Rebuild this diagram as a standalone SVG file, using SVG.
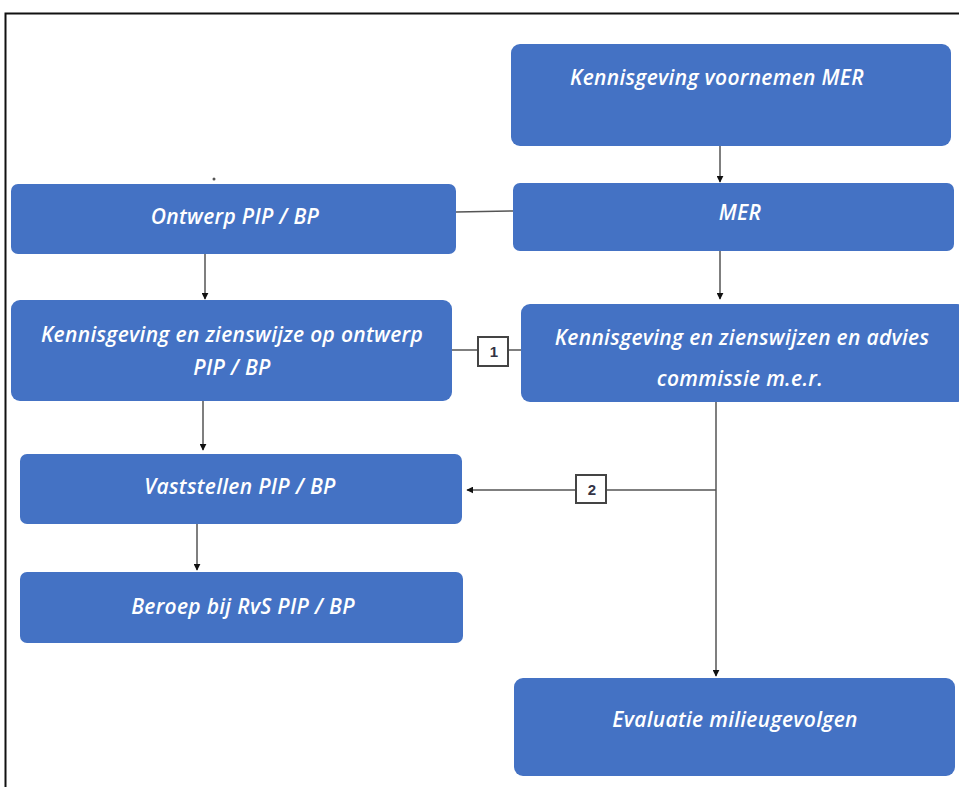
<svg xmlns="http://www.w3.org/2000/svg" width="959" height="787" viewBox="0 0 959 787">
<defs>
<style>
.n{fill:#4472C4;}
.t{fill:#fff;font-family:"Open Sans","Noto Sans",sans-serif;font-style:italic;font-weight:600;font-size:21px;text-anchor:middle;letter-spacing:0.3px;}
.c{stroke:#555;stroke-width:1.5;fill:none;}
.b{fill:#fff;stroke:#444;stroke-width:2;}
.l{font-family:"Liberation Sans",sans-serif;font-size:15px;font-weight:bold;fill:#334;text-anchor:middle;}
</style>
<marker id="a" viewBox="0 0 10 10" refX="9" refY="5" markerWidth="7" markerHeight="7" orient="auto" markerUnits="userSpaceOnUse"><path d="M0,0 L10,5 L0,10 z" fill="#111"/></marker>
</defs>
<rect x="0" y="0" width="959" height="787" fill="#fff"/>
<path d="M5.5,787 V13.5 H959" fill="none" stroke="#111" stroke-width="2"/>
<circle cx="214" cy="179" r="1.5" fill="#555"/>
<g id="connectors">
<line class="c" x1="720" y1="146" x2="720" y2="182" marker-end="url(#a)"/>
<line class="c" x1="513" y1="211" x2="456" y2="212"/>
<line class="c" x1="720" y1="251" x2="720" y2="299" marker-end="url(#a)"/>
<line class="c" x1="205" y1="254" x2="205" y2="299" marker-end="url(#a)"/>
<line class="c" x1="452" y1="350" x2="521" y2="350"/>
<line class="c" x1="203" y1="401" x2="203" y2="450" marker-end="url(#a)"/>
<line class="c" x1="716" y1="402" x2="716" y2="676" marker-end="url(#a)"/>
<line class="c" x1="716" y1="490" x2="467" y2="490" marker-end="url(#a)"/>
<line class="c" x1="197" y1="524" x2="197" y2="570" marker-end="url(#a)"/>
<g id="label1"><rect class="b" x="478" y="337" width="30" height="29"/><text class="l" x="494" y="357">1</text></g>
<g id="label2"><rect class="b" x="576" y="475" width="30" height="28"/><text class="l" x="592" y="495">2</text></g>
</g>
<g id="n1"><rect class="n" x="511" y="44" width="440" height="102" rx="9"/><text class="t" x="717" y="85">Kennisgeving voornemen MER</text></g>
<g id="n2"><rect class="n" x="513" y="183" width="441" height="68" rx="7"/><text class="t" x="740" y="220">MER</text></g>
<g id="n3"><rect class="n" x="11" y="184" width="445" height="70" rx="7"/><text class="t" x="235" y="224">Ontwerp PIP / BP</text></g>
<g id="n4"><rect class="n" x="11" y="300" width="441" height="101" rx="9"/><text class="t" x="232" y="342">Kennisgeving en zienswijze op ontwerp</text><text class="t" x="232" y="375">PIP / BP</text></g>
<g id="n5"><rect class="n" x="521" y="304" width="445" height="98" rx="9"/><text class="t" x="742" y="345">Kennisgeving en zienswijzen en advies</text><text class="t" x="740" y="386">commissie m.e.r.</text></g>
<g id="n6"><rect class="n" x="20" y="454" width="442" height="70" rx="7"/><text class="t" x="240" y="494">Vaststellen PIP / BP</text></g>
<g id="n7"><rect class="n" x="20" y="572" width="443" height="71" rx="7"/><text class="t" x="243" y="614">Beroep bij RvS PIP / BP</text></g>
<g id="n8"><rect class="n" x="514" y="678" width="441" height="98" rx="9"/><text class="t" x="735" y="727">Evaluatie milieugevolgen</text></g>
</svg>
